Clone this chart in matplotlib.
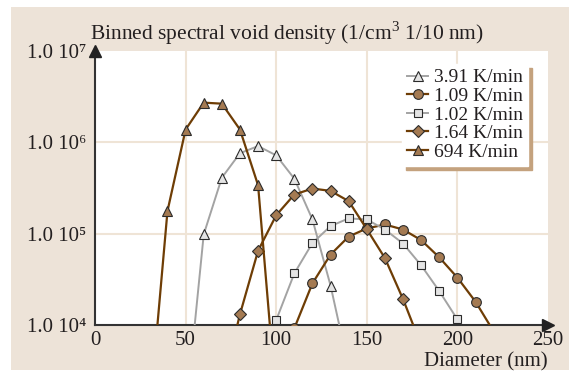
import matplotlib
matplotlib.use("Agg")
import matplotlib.pyplot as plt
from matplotlib.patches import Rectangle

plt.rcParams['font.family'] = ['Liberation Serif', 'DejaVu Serif']
plt.rcParams['mathtext.fontset'] = 'custom'
plt.rcParams['mathtext.rm'] = 'Liberation Serif'

# binned void densities (1/cm^3 per 10 nm) against diameter (nm)
d_391 = [50, 60, 70, 80, 90, 100, 110, 120, 130, 140]
v_391 = [1.0e3, 9.8e4, 4.1e5, 7.6e5, 9.1e5, 7.2e5, 4.0e5, 1.43e5, 2.7e4, 3.4e3]

d_109 = [110, 120, 130, 140, 150, 160, 170, 180, 190, 200, 210, 220]
v_109 = [9.2e3, 2.86e4, 5.9e4, 9.3e4, 1.14e5, 1.26e5, 1.11e5, 8.5e4, 5.5e4, 3.3e4, 1.8e4, 8.5e3]

d_102 = [90, 100, 110, 120, 130, 140, 150, 160, 170, 180, 190, 200]
v_102 = [3.0e3, 1.13e4, 3.67e4, 7.9e4, 1.21e5, 1.47e5, 1.43e5, 1.11e5, 7.8e4, 4.5e4, 2.35e4, 1.15e4]

d_164 = [70, 80, 90, 100, 110, 120, 130, 140, 150, 160, 170, 180]
v_164 = [2.0e3, 1.31e4, 6.5e4, 1.59e5, 2.68e5, 3.12e5, 2.94e5, 2.27e5, 1.12e5, 5.4e4, 1.92e4, 6.0e3]

d_694 = [30, 40, 50, 60, 70, 80, 90, 100]
v_694 = [1.0e3, 1.77e5, 1.38e6, 2.72e6, 2.65e6, 1.38e6, 3.39e5, 1.5e3]

labels = ['3.91 K/min', '1.09 K/min', '1.02 K/min', '1.64 K/min', '694 K/min']
x_ticks = [0, 50, 100, 150, 200, 250]
y_ticks = [1e4, 1e5, 1e6, 1e7]
y_ticklabels = ['1.0 10\u2074', '1.0 10\u2075', '1.0 10\u2076', '1.0 10\u2077']

brown = '#6e3d05'
brown_fill = '#a47a52'
grey = '#a3a3a3'
grey_fill = '#e4e4e4'
edge = '#2b2b2b'
txt = '#231f20'
fs = 15

fig = plt.figure(figsize=(5.72, 3.71), dpi=100)
fig.patch.set_facecolor('white')
fig.add_artist(Rectangle((11 / 572, 1 - 370 / 371), 558 / 572, 363 / 371,
                         transform=fig.transFigure, facecolor='#ede3d8',
                         edgecolor='none', zorder=-5))

ax = fig.add_axes([95 / 572, 1 - 325 / 371, 453 / 572, 274 / 371])
ax.set_zorder(1)
ax.set_facecolor('white')

series = [
    (d_391, v_391, grey, grey_fill, '^'),
    (d_109, v_109, brown, brown_fill, 'o'),
    (d_102, v_102, grey, grey_fill, 's'),
    (d_164, v_164, brown, brown_fill, 'D'),
    (d_694, v_694, brown, brown_fill, '^'),
]
for (d, v, lc, fc, m), lab in zip(series, labels):
    ms = 6 if m in ('s', 'D') else 7
    ax.plot(d, v, color=lc, lw=1.6 if lc == brown else 1.4, marker=m, ms=ms,
            mfc=fc, mec=edge, mew=0.8, label=lab, zorder=3)

ax.set_yscale('log')
ax.set_xlim(0, 250)
ax.set_ylim(1e4, 1e7)
ax.set_xticks(x_ticks)
ax.set_yticks(y_ticks)
ax.set_yticklabels(y_ticklabels)
ax.minorticks_off()
ax.tick_params(length=0, labelsize=fs, pad=6, colors=txt)
ax.tick_params(axis='x', pad=4)

for x in [50, 100, 150, 200]:
    ax.axvline(x, color='#efe4d6', lw=1.5, zorder=1)
for y in [1e5, 1e6]:
    ax.axhline(y, color='#efe4d6', lw=1.5, zorder=1)

for s in ['top', 'right']:
    ax.spines[s].set_visible(False)
for s in ['left', 'bottom']:
    ax.spines[s].set_color('#333333')
    ax.spines[s].set_linewidth(1.5)
# arrow heads on the axes
ax.plot(1, 0, '>', color='#222222', ms=8, transform=ax.transAxes, clip_on=False, zorder=5)
ax.plot(0, 1, '^', color='#222222', ms=8, transform=ax.transAxes, clip_on=False, zorder=5)

fig.text(548 / 572, 1 - 366 / 371, 'Diameter (nm)', fontsize=fs, ha='right',
         va='baseline', color=txt)
fig.text(90 / 572, 1 - 33 / 371, 'Binned spectral void density (1/cm$^{3}$ 1/10 nm)',
         fontsize=15.5, va='center', ha='left', color=txt)

leg = ax.legend(loc='upper right', bbox_to_anchor=(433 / 453, 1 - 13 / 274),
                fontsize=14, frameon=True, fancybox=False, framealpha=1,
                edgecolor='white', handlelength=1.1, handletextpad=0.3,
                labelspacing=0.05, borderpad=0.25, borderaxespad=0,
                shadow={'color': '#c4a27e', 'alpha': 1, 'ox': 3, 'oy': -3})
for t in leg.get_texts():
    t.set_color(txt)

fig.savefig('out.png', dpi=100)
